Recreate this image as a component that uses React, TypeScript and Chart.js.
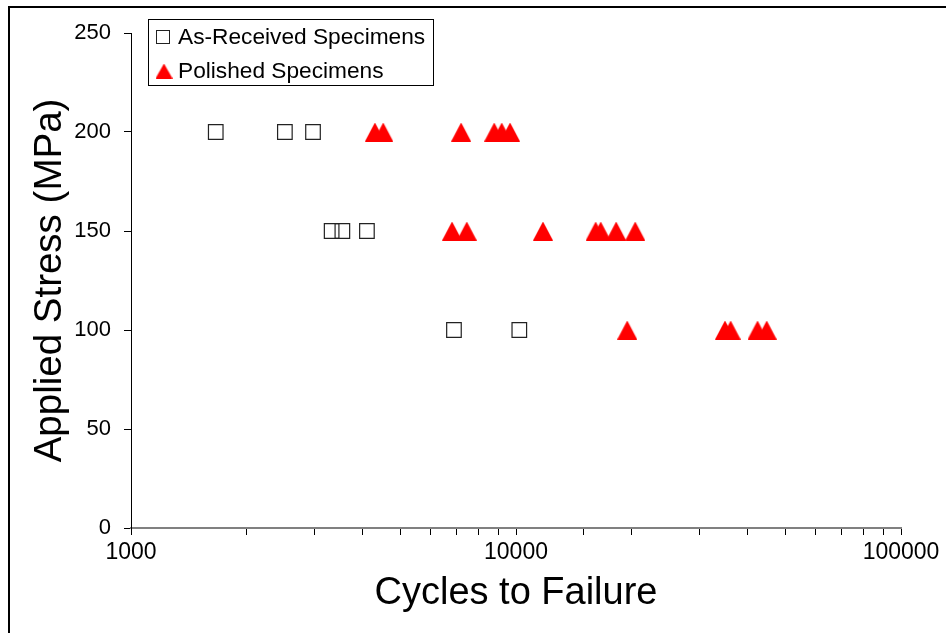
import React, { useEffect, useRef } from 'react';
import { Chart, registerables } from 'chart.js';

Chart.register(...registerables);

// ---- Data ----
const asReceivedLabel = 'As-Received Specimens';
const asReceivedCycles = [1660, 2510, 2970, 3320, 3540, 4100, 6900, 10200];
const asReceivedStress = [200, 200, 200, 150, 150, 150, 100, 100];

const polishedLabel = 'Polished Specimens';
const polishedCycles = [
  4300, 4520, 7200, 8780, 9180, 9650,
  6820, 7450, 11750, 16100, 16600, 18200, 20400,
  19450, 34900, 36100, 42400, 44800,
];
const polishedStress = [
  200, 200, 200, 200, 200, 200,
  150, 150, 150, 150, 150, 150, 150,
  100, 100, 100, 100, 100,
];

const xTitle = 'Cycles to Failure';
const yTitle = 'Applied Stress (MPa)';
const xMin = 1000;
const xMax = 100000;
const yMin = 0;
const yMax = 250;
const yStep = 50;

const FONT = '"Liberation Sans", Arial, Helvetica, sans-serif';

function makeTriangle(w: number, h: number, color: string): HTMLCanvasElement {
  const c = document.createElement('canvas');
  c.width = w;
  c.height = h;
  const g = c.getContext('2d')!;
  g.fillStyle = color;
  g.beginPath();
  g.moveTo(w / 2, 0);
  g.lineTo(w, h);
  g.lineTo(0, h);
  g.closePath();
  g.fill();
  return c;
}

export default function App() {
  const ref = useRef<HTMLCanvasElement | null>(null);

  useEffect(() => {
    const canvas = ref.current;
    if (!canvas) return;

    const triImg = makeTriangle(20, 19, '#ff0000');
    const triLegend = makeTriangle(17, 15, '#ff0000');

    const framePlugin = {
      id: 'outerFrame',
      afterDraw(chart: any) {
        const ctx = chart.ctx;
        ctx.save();
        ctx.strokeStyle = '#000';
        ctx.lineWidth = 2;
        ctx.beginPath();
        ctx.moveTo(9, 640);
        ctx.lineTo(9, 7);
        ctx.lineTo(950, 7);
        ctx.stroke();
        ctx.restore();
      },
    };

    const legendPlugin = {
      id: 'boxLegend',
      afterDraw(chart: any) {
        const ctx = chart.ctx;
        ctx.save();
        ctx.strokeStyle = '#000';
        ctx.lineWidth = 1;
        ctx.strokeRect(148.5, 19.5, 285, 66);
        ctx.font = `22.7px ${FONT}`;
        ctx.textBaseline = 'middle';
        ctx.textAlign = 'left';
        const rows = [37, 71];
        chart.data.datasets.forEach((ds: any, i: number) => {
          const cy = rows[i];
          const cx = 163;
          if (ds.pointStyle === 'rect') {
            ctx.strokeStyle = ds.borderColor;
            ctx.lineWidth = 1;
            ctx.strokeRect(cx - 6.5, cy - 6.5, 13, 13);
          } else {
            ctx.drawImage(triLegend, cx - 7.5, cy - 7.5);
          }
          ctx.fillStyle = '#000';
          ctx.fillText(ds.label, 178, cy + 1);
        });
        ctx.restore();
      },
    };

    const chart = new Chart(canvas, {
      type: 'scatter',
      data: {
        datasets: [
          {
            label: asReceivedLabel,
            data: asReceivedCycles.map((x, i) => ({ x, y: asReceivedStress[i] })),
            pointStyle: 'rect',
            pointRadius: 10.3,
            backgroundColor: 'rgba(0,0,0,0)',
            borderColor: '#222',
            borderWidth: 1.2,
          },
          {
            label: polishedLabel,
            data: polishedCycles.map((x, i) => ({ x, y: polishedStress[i] })),
            pointStyle: triImg,
            pointRadius: 10,
            backgroundColor: '#ff0000',
            borderColor: '#ff0000',
            borderWidth: 0,
          },
        ],
      },
      options: {
        responsive: false,
        animation: false,
        devicePixelRatio: 1,
        layout: { padding: { left: 0, right: 45, top: 33, bottom: 0 } },
        plugins: {
          legend: { display: false },
          tooltip: { enabled: false },
        },
        scales: {
          x: {
            type: 'logarithmic',
            min: xMin,
            max: xMax,
            afterFit(scale: any) {
              scale.height = 105;
            },
            border: { display: true, color: '#808080', width: 2 },
            grid: {
              display: true,
              drawOnChartArea: false,
              drawTicks: true,
              tickLength: 7,
              tickColor: '#000',
              tickWidth: 1,
            },
            ticks: {
              autoSkip: false,
              maxRotation: 0,
              padding: 4,
              color: '#000',
              font: { family: FONT, size: 23 },
              callback(value: any) {
                const v = Number(value);
                const l = Math.log10(v);
                return Math.abs(l - Math.round(l)) < 1e-9 ? String(v) : '';
              },
            },
            title: {
              display: true,
              text: xTitle,
              color: '#000',
              font: { family: FONT, size: 38 },
              padding: { top: 0, bottom: 17 },
            },
          },
          y: {
            type: 'linear',
            min: yMin,
            max: yMax,
            afterFit(scale: any) {
              scale.width = 131;
            },
            border: { display: true, color: '#000', width: 1 },
            grid: {
              display: true,
              drawOnChartArea: false,
              drawTicks: true,
              tickLength: 7,
              tickColor: '#000',
              tickWidth: 1,
            },
            ticks: {
              stepSize: yStep,
              padding: 13,
              color: '#000',
              font: { family: FONT, size: 22 },
            },
            title: {
              display: true,
              text: yTitle,
              color: '#000',
              font: { family: FONT, size: 38.5 },
              padding: { top: 27, bottom: 0 },
            },
          },
        },
      },
      plugins: [framePlugin, legendPlugin],
    } as any);

    return () => chart.destroy();
  }, []);

  return (
    <div style={{ position: 'absolute', left: 0, top: 0, width: 946, height: 633, background: '#fff' }}>
      <canvas ref={ref} width={946} height={633} style={{ display: 'block', width: 946, height: 633 }} />
    </div>
  );
}
